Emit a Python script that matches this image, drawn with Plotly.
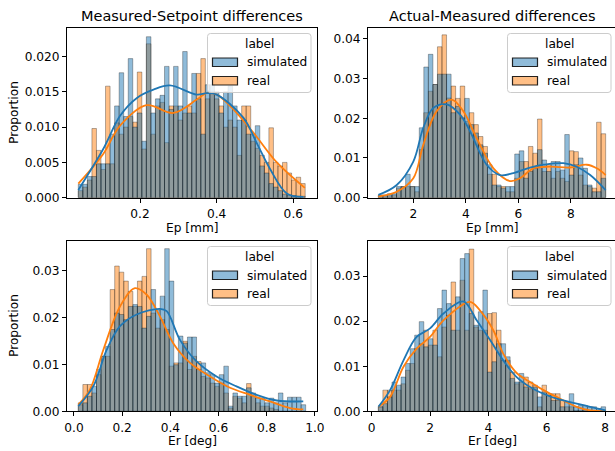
"""Histograms of simulated vs real errors (Ep / Er) with KDE overlays."""
import plotly.graph_objects as go

W, H = 615, 451
FONT = 'DejaVu Sans'
BLUE = '#1f77b4'
ORANGE = '#ff7f0e'

# ---------------- data ----------------
# bin edges: first edge, last edge, number of bins
ms_ep_bins = (0.039, 0.631, 50)
am_ep_bins = (0.67, 9.32, 50)
ms_er_bins = (0.018, 0.962, 50)
am_er_bins = (0.228, 8.02, 50)

ms_ep_sim = [0.0019, 0.0019, 0.0030, 0.0030, 0.0048, 0.0048, 0.0048, 0.0090, 0.0130, 0.0177,
             0.0115, 0.0197, 0.0100, 0.0120, 0.0080, 0.0228, 0.0120, 0.0140, 0.0145, 0.0186,
             0.0125, 0.0186, 0.0130, 0.0207, 0.0120, 0.0176, 0.0140, 0.0090, 0.0160, 0.0160,
             0.0150, 0.0120, 0.0150, 0.0158, 0.0130, 0.0110, 0.0110, 0.0090, 0.0090, 0.0102,
             0.0045, 0.0035, 0.0020, 0.0015, 0.0010, 0.0005, 0.0004, 0.0003, 0.0002, 0.0002]
ms_ep_real = [0.0010, 0.0015, 0.0025, 0.0098, 0.0067, 0.0040, 0.0158, 0.0048, 0.0106, 0.0090,
              0.0100, 0.0115, 0.0107, 0.0178, 0.0069, 0.0218, 0.0090, 0.0130, 0.0135, 0.0078,
              0.0130, 0.0130, 0.0110, 0.0120, 0.0130, 0.0120, 0.0176, 0.0197, 0.0140, 0.0150,
              0.0140, 0.0130, 0.0100, 0.0110, 0.0100, 0.0060, 0.0130, 0.0130, 0.0080, 0.0070,
              0.0060, 0.0050, 0.0099, 0.0050, 0.0045, 0.0050, 0.0035, 0.0025, 0.0029, 0.0020]

am_ep_sim = [0.0007, 0.0007, 0.0010, 0.0010, 0.0028, 0.0028, 0.0059, 0.0028, 0.0028, 0.0176,
             0.0329, 0.0361, 0.0285, 0.0311, 0.0311, 0.0311, 0.0214, 0.0230, 0.0201, 0.0250,
             0.0184, 0.0163, 0.0133, 0.0112, 0.0083, 0.0032, 0.0032, 0.0024, 0.0028, 0.0028,
             0.0110, 0.0118, 0.0049, 0.0066, 0.0074, 0.0121, 0.0095, 0.0066, 0.0091, 0.0091,
             0.0070, 0.0159, 0.0057, 0.0083, 0.0100, 0.0074, 0.0032, 0.0015, 0.0015, 0.0049]
am_ep_real = [0.0005, 0.0005, 0.0005, 0.0007, 0.0024, 0.0028, 0.0028, 0.0028, 0.0015, 0.0121,
              0.0214, 0.0268, 0.0285, 0.0380, 0.0410, 0.0251, 0.0281, 0.0250, 0.0281, 0.0192,
              0.0214, 0.0184, 0.0154, 0.0129, 0.0059, 0.0059, 0.0028, 0.0028, 0.0015, 0.0015,
              0.0049, 0.0091, 0.0091, 0.0129, 0.0112, 0.0198, 0.0066, 0.0083, 0.0049, 0.0066,
              0.0049, 0.0041, 0.0118, 0.0116, 0.0057, 0.0032, 0.0028, 0.0024, 0.0190, 0.0161]

ms_er_sim = [0.0014, 0.0018, 0.0032, 0.0053, 0.0089, 0.0117, 0.0138, 0.0174, 0.0209, 0.0206,
             0.0195, 0.0223, 0.0227, 0.0223, 0.0177, 0.0202, 0.0259, 0.0216, 0.0245, 0.0346,
             0.0277, 0.0099, 0.0160, 0.0145, 0.0158, 0.0158, 0.0089, 0.0103, 0.0082, 0.0078,
             0.0060, 0.0078, 0.0096, 0.0011, 0.0039, 0.0032, 0.0032, 0.0050, 0.0039, 0.0028,
             0.0028, 0.0018, 0.0028, 0.0018, 0.0039, 0.0018, 0.0030, 0.0030, 0.0030, 0.0014]
ms_er_real = [0.0018, 0.0057, 0.0057, 0.0039, 0.0078, 0.0117, 0.0117, 0.0259, 0.0309, 0.0296,
              0.0277, 0.0255, 0.0223, 0.0277, 0.0287, 0.0346, 0.0209, 0.0177, 0.0195, 0.0174,
              0.0096, 0.0103, 0.0103, 0.0149, 0.0089, 0.0117, 0.0106, 0.0074, 0.0071, 0.0060,
              0.0053, 0.0060, 0.0039, 0.0007, 0.0032, 0.0028, 0.0018, 0.0059, 0.0032, 0.0018,
              0.0011, 0.0011, 0.0007, 0.0004, 0.0, 0.0, 0.0, 0.0, 0.0, 0.0]

am_er_sim = [0.0010, 0.0017, 0.0032, 0.0065, 0.0058, 0.0076, 0.0106, 0.0139, 0.0169, 0.0199,
             0.0143, 0.0161, 0.0147, 0.0228, 0.0269, 0.0239, 0.0180, 0.0254, 0.0339, 0.0350,
             0.0217, 0.0191, 0.0221, 0.0269, 0.0087, 0.0110, 0.0150, 0.0150, 0.0121, 0.0073,
             0.0065, 0.0084, 0.0054, 0.0050, 0.0054, 0.0032, 0.0043, 0.0036, 0.0024, 0.0024,
             0.0010, 0.0021, 0.0039, 0.0010, 0.0013, 0.0013, 0.0010, 0.0010, 0.0006, 0.0010]
am_er_real = [0.0010, 0.0047, 0.0047, 0.0047, 0.0047, 0.0061, 0.0091, 0.0106, 0.0139, 0.0150,
              0.0180, 0.0147, 0.0180, 0.0121, 0.0187, 0.0213, 0.0287, 0.0180, 0.0291, 0.0180,
              0.0360, 0.0187, 0.0180, 0.0180, 0.0217, 0.0219, 0.0180, 0.0113, 0.0113, 0.0087,
              0.0061, 0.0065, 0.0076, 0.0065, 0.0058, 0.0010, 0.0058, 0.0039, 0.0039, 0.0039,
              0.0024, 0.0010, 0.0010, 0.0002, 0.0002, 0.0002, 0.0, 0.0, 0.0, 0.0002]

# KDE curves (x, density as proportion)
ms_ep_kde_sim_x = [0.039, 0.104, 0.148, 0.191, 0.235, 0.278, 0.348, 0.374, 0.400, 0.470, 0.504, 0.539, 0.583, 0.626]
ms_ep_kde_sim_y = [0.0011, 0.0069, 0.0116, 0.0141, 0.0153, 0.0159, 0.0146, 0.0148, 0.0146, 0.0113, 0.0078, 0.0041, 0.0006, 0.0001]
ms_ep_kde_real_x = [0.039, 0.104, 0.148, 0.217, 0.287, 0.348, 0.374, 0.400, 0.435, 0.496, 0.557, 0.630]
ms_ep_kde_real_y = [0.0020, 0.0062, 0.0102, 0.0131, 0.0120, 0.0139, 0.0148, 0.0146, 0.0130, 0.0092, 0.0050, 0.0014]

am_ep_kde_sim_x = [0.67, 1.37, 2.0, 2.38, 2.76, 3.27, 3.78, 4.16, 4.79, 5.30, 5.81, 6.44, 6.95, 7.71, 8.22, 8.73, 9.32]
am_ep_kde_sim_y = [0.0007, 0.0032, 0.0091, 0.0176, 0.0226, 0.0235, 0.0209, 0.0167, 0.0083, 0.0057, 0.0062, 0.0076, 0.0083, 0.0087, 0.0078, 0.0057, 0.0019]
am_ep_kde_real_x = [0.67, 1.37, 2.0, 2.38, 2.89, 3.46, 3.90, 4.41, 5.05, 5.68, 6.06, 6.57, 7.20, 7.96, 8.60, 8.98, 9.32]
am_ep_kde_real_y = [0.0003, 0.0015, 0.0049, 0.0133, 0.0218, 0.0247, 0.0218, 0.0150, 0.0074, 0.0042, 0.0049, 0.0074, 0.0078, 0.0076, 0.0083, 0.0074, 0.0057]

ms_er_kde_sim_x = [0.018, 0.080, 0.136, 0.191, 0.260, 0.357, 0.385, 0.440, 0.509, 0.592, 0.675, 0.758, 0.842, 0.952]
ms_er_kde_sim_y = [0.0011, 0.0053, 0.0131, 0.0181, 0.0206, 0.0218, 0.0213, 0.0152, 0.0106, 0.0074, 0.0053, 0.0035, 0.0023, 0.0021]
ms_er_kde_real_x = [0.018, 0.066, 0.122, 0.191, 0.253, 0.302, 0.357, 0.412, 0.482, 0.565, 0.648, 0.731, 0.814, 0.897, 0.952]
ms_er_kde_real_y = [0.0014, 0.0046, 0.0131, 0.0223, 0.0262, 0.0248, 0.0202, 0.0145, 0.0103, 0.0074, 0.0050, 0.0035, 0.0021, 0.0007, 0.0004]

am_er_kde_sim_x = [0.23, 0.63, 1.09, 1.54, 2.0, 2.46, 3.14, 3.6, 4.06, 4.51, 4.97, 5.43, 5.89, 6.34, 7.03, 7.49, 8.02]
am_er_kde_sim_y = [0.0010, 0.0047, 0.0113, 0.0165, 0.0184, 0.0217, 0.0244, 0.0202, 0.0158, 0.0113, 0.0076, 0.0054, 0.0039, 0.0028, 0.0017, 0.0010, 0.0002]
am_er_kde_real_x = [0.23, 0.63, 1.09, 1.54, 2.0, 2.46, 3.37, 3.71, 4.17, 4.51, 4.97, 5.43, 5.89, 6.34, 7.03, 7.49, 8.02]
am_er_kde_real_y = [0.0010, 0.0032, 0.0099, 0.0139, 0.0165, 0.0202, 0.0243, 0.0224, 0.0180, 0.0128, 0.0085, 0.0065, 0.0047, 0.0032, 0.0010, 0.0002, 0.0]

panels = [
    dict(ax='', bins=ms_ep_bins, sim=ms_ep_sim, real=ms_ep_real,
         kde=(ms_ep_kde_sim_x, ms_ep_kde_sim_y, ms_ep_kde_real_x, ms_ep_kde_real_y), dx=0, dy=0),
    dict(ax='2', bins=am_ep_bins, sim=am_ep_sim, real=am_ep_real,
         kde=(am_ep_kde_sim_x, am_ep_kde_sim_y, am_ep_kde_real_x, am_ep_kde_real_y), dx=300, dy=0),
    dict(ax='3', bins=ms_er_bins, sim=ms_er_sim, real=ms_er_real,
         kde=(ms_er_kde_sim_x, ms_er_kde_sim_y, ms_er_kde_real_x, ms_er_kde_real_y), dx=0, dy=213),
    dict(ax='4', bins=am_er_bins, sim=am_er_sim, real=am_er_real,
         kde=(am_er_kde_sim_x, am_er_kde_sim_y, am_er_kde_real_x, am_er_kde_real_y), dx=300, dy=213),
]


def fx(p):
    return p / W


def fy(p):
    return 1 - p / H


def rounded_rect(x0, y0, x1, y1, r):
    """SVG path (paper coords) of a rounded rectangle given in pixels."""
    pts = [
        f'M {fx(x0 + r)},{fy(y0)}', f'L {fx(x1 - r)},{fy(y0)}', f'Q {fx(x1)},{fy(y0)} {fx(x1)},{fy(y0 + r)}',
        f'L {fx(x1)},{fy(y1 - r)}', f'Q {fx(x1)},{fy(y1)} {fx(x1 - r)},{fy(y1)}',
        f'L {fx(x0 + r)},{fy(y1)}', f'Q {fx(x0)},{fy(y1)} {fx(x0)},{fy(y1 - r)}',
        f'L {fx(x0)},{fy(y0 + r)}', f'Q {fx(x0)},{fy(y0)} {fx(x0 + r)},{fy(y0)}', 'Z'
    ]
    return ' '.join(pts)


fig = go.Figure()
shapes, annotations = [], []

for p in panels:
    lo, hi, n = p['bins']
    width = (hi - lo) / n
    centers = [lo + width * (i + 0.5) for i in range(n)]
    xa, ya = 'x' + p['ax'], 'y' + p['ax']
    for vals, col in ((p['real'], 'rgba(255,127,14,0.5)'), (p['sim'], 'rgba(31,119,180,0.5)')):
        fig.add_trace(go.Bar(x=centers, y=vals, width=width, xaxis=xa, yaxis=ya,
                             marker=dict(color=col, line=dict(color='rgba(0,0,0,0.5)', width=0.6)),
                             showlegend=False))
    sx, sy, rx, ry = p['kde']
    fig.add_trace(go.Scatter(x=rx, y=ry, mode='lines', xaxis=xa, yaxis=ya, showlegend=False,
                             line=dict(color=ORANGE, width=1.8, shape='spline', smoothing=1.0)))
    fig.add_trace(go.Scatter(x=sx, y=sy, mode='lines', xaxis=xa, yaxis=ya, showlegend=False,
                             line=dict(color=BLUE, width=1.8, shape='spline', smoothing=1.0)))

    # hand-built legend box, like the matplotlib one
    dx, dy = p['dx'], p['dy']
    shapes.append(dict(type='path', xref='paper', yref='paper',
                       path=rounded_rect(207.5 + dx, 33.5 + dy, 311 + dx, 92.5 + dy, 3),
                       fillcolor='rgba(255,255,255,0.8)', line=dict(color='#cccccc', width=1)))
    for (y0, y1), col in (((58, 66.5), 'rgba(31,119,180,0.5)'), ((76.5, 85), 'rgba(255,127,14,0.5)')):
        shapes.append(dict(type='rect', xref='paper', yref='paper',
                           x0=fx(212.5 + dx), x1=fx(237.5 + dx), y0=fy(y0 + dy), y1=fy(y1 + dy),
                           fillcolor=col, line=dict(color='rgba(0,0,0,0.85)', width=1.2)))
    annotations.append(dict(text='label', x=fx(259.5 + dx), y=fy(44 + dy), xanchor='center', yanchor='middle'))
    annotations.append(dict(text='simulated', x=fx(246 + dx), y=fy(62.5 + dy), xanchor='left', yanchor='middle'))
    annotations.append(dict(text='real', x=fx(246 + dx), y=fy(81 + dy), xanchor='left', yanchor='middle'))

# titles and axis labels
for txt, x in (('Measured-Setpoint differences', 192), ('Actual-Measured differences', 492)):
    annotations.append(dict(text=txt, x=fx(x), y=fy(16), xanchor='center', yanchor='middle',
                            font=dict(size=14.5)))
for txt, y in (('Ep [mm]', 228), ('Er [deg]', 441)):
    for x in (192, 492):
        annotations.append(dict(text=txt, x=fx(x), y=fy(y), xanchor='center', yanchor='middle'))
for y in (113, 326):
    annotations.append(dict(text='Proportion', x=fx(14), y=fy(y), textangle=-90,
                            xanchor='center', yanchor='middle'))
for a in annotations:
    a.update(xref='paper', yref='paper', showarrow=False, borderpad=0)
    a.setdefault('font', dict(size=12.2))

axis_style = dict(showline=True, linecolor='black', linewidth=1, ticks='outside', ticklen=4,
                  tickwidth=1, tickcolor='black', showgrid=False, zeroline=False, automargin=False,
                  tickfont=dict(size=12.2, color='black', family=FONT))
x_style = dict(axis_style, ticklabelstandoff=1)

left_x, right_x = [fx(67), fx(317)], [fx(368), 1.0]
top_y, bottom_y = [fy(197.7), fy(27.7)], [fy(411.3), fy(241)]

fig.update_layout(
    width=W, height=H, margin=dict(l=0, r=0, t=0, b=0),
    plot_bgcolor='white', paper_bgcolor='white', barmode='overlay',
    font=dict(family=FONT, color='black', size=12.2),
    shapes=shapes, annotations=annotations,
    xaxis=dict(domain=left_x, anchor='y', range=[0.0095, 0.6618], tickvals=[0.2, 0.4, 0.6],
               tickformat='.1f', mirror=True, **x_style),
    yaxis=dict(domain=top_y, anchor='x', range=[0, 0.02408],
               tickvals=[0, 0.005, 0.01, 0.015, 0.02], tickformat='.3f', mirror=True, **axis_style),
    xaxis2=dict(domain=right_x, anchor='y2', range=[0.276, 9.675], tickvals=[2, 4, 6, 8],
                mirror=True, **x_style),
    yaxis2=dict(domain=top_y, anchor='x2', range=[0, 0.0428],
                tickvals=[0, 0.01, 0.02, 0.03, 0.04], tickformat='.2f', **axis_style),
    xaxis3=dict(domain=left_x, anchor='y3', range=[-0.029, 1.009],
                tickvals=[0, 0.2, 0.4, 0.6, 0.8, 1.0], tickformat='.1f', mirror=True, **x_style),
    yaxis3=dict(domain=bottom_y, anchor='x3', range=[0, 0.03623],
                tickvals=[0, 0.01, 0.02, 0.03], tickformat='.2f', mirror=True, **axis_style),
    xaxis4=dict(domain=right_x, anchor='y4', range=[-0.127, 8.343], tickvals=[0, 2, 4, 6, 8],
                mirror=True, **x_style),
    yaxis4=dict(domain=bottom_y, anchor='x4', range=[0, 0.0378],
                tickvals=[0, 0.01, 0.02, 0.03], tickformat='.2f', **axis_style),
)

# the page body has a default 8px margin; drop it so the figure sits at the window origin
fig.write_html("out.html", post_script="document.body.style.margin='0';",
               config={'displayModeBar': False})
